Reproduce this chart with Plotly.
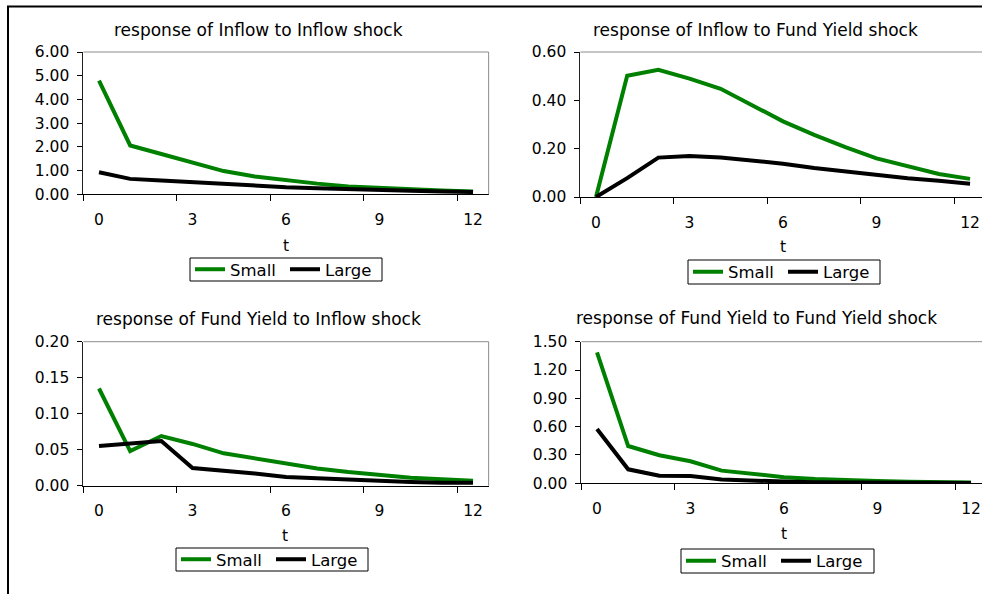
import plotly.graph_objects as go

W, H = 982, 594

t = list(range(13))
tick_vals = [0, 3, 6, 9, 12]

titles = [
    "response of Inflow to Inflow shock",
    "response of Inflow to Fund Yield shock",
    "response of Fund Yield to Inflow shock",
    "response of Fund Yield to Fund Yield shock",
]

small_inflow_inflow = [4.79, 2.06, 1.70, 1.35, 0.98, 0.75, 0.58, 0.45, 0.33, 0.26, 0.21, 0.16, 0.12]
large_inflow_inflow = [0.93, 0.65, 0.58, 0.50, 0.42, 0.36, 0.30, 0.26, 0.21, 0.18, 0.15, 0.12, 0.10]

small_inflow_yield = [0.0, 0.502, 0.526, 0.490, 0.448, 0.380, 0.313, 0.257, 0.206, 0.160, 0.126, 0.095, 0.075]
large_inflow_yield = [0.0, 0.078, 0.163, 0.170, 0.163, 0.152, 0.138, 0.120, 0.105, 0.092, 0.078, 0.067, 0.055]

small_yield_inflow = [0.135, 0.048, 0.069, 0.058, 0.045, 0.038, 0.030, 0.024, 0.019, 0.015, 0.011, 0.009, 0.007]
large_yield_inflow = [0.055, 0.058, 0.062, 0.0245, 0.021, 0.017, 0.012, 0.010, 0.008, 0.006, 0.005, 0.004, 0.004]

small_yield_yield = [1.387, 0.395, 0.297, 0.233, 0.134, 0.095, 0.065, 0.045, 0.032, 0.024, 0.017, 0.011, 0.008]
large_yield_yield = [0.575, 0.148, 0.081, 0.078, 0.040, 0.025, 0.018, 0.012, 0.008, 0.006, 0.005, 0.004, 0.003]

series = [
    (small_inflow_inflow, large_inflow_inflow),
    (small_inflow_yield, large_inflow_yield),
    (small_yield_inflow, large_yield_inflow),
    (small_yield_yield, large_yield_yield),
]
y_ranges = [(0, 6), (0, 0.6), (0, 0.2), (0, 1.5)]
y_dticks = [1.0, 0.2, 0.05, 0.3]

GREEN = "#008000"
FONT = "DejaVu Sans"

step = 31.17
panels = [
    dict(x0=99.0, top=52.0, bottom=194.3),
    dict(x0=596.0, top=52.0, bottom=197.0),
    dict(x0=99.0, top=341.7, bottom=485.7),
    dict(x0=597.0, top=341.7, bottom=483.3),
]
title_pos = [(258, 30), (755, 30), (258, 319), (756, 318)]
t_pos = [(286, 246), (783, 247), (285, 536), (784, 534)]
# legend boxes: left, right, top, bottom
legend_box = [(190, 382, 258, 281), (688, 880, 260, 284), (176, 368, 548, 571), (681, 874, 549, 573)]

def px(x):
    return x / W

def py(y):
    return 1 - y / H

fig = go.Figure()
layout = dict(
    width=W, height=H,
    margin=dict(l=0, r=0, t=0, b=0, autoexpand=False),
    paper_bgcolor="white", plot_bgcolor="white",
    font=dict(family=FONT, size=15, color="black"),
    showlegend=True,
)
shapes = []
annotations = []

for i, (sm, lg) in enumerate(series):
    k = "" if i == 0 else str(i + 1)
    p = panels[i]
    left = p["x0"] - step / 2
    right = p["x0"] + 12.5 * step
    xmax = 12.5
    if right > W:
        xmax = (W - p["x0"]) / step
        right = W
    leg = "legend" if i == 0 else f"legend{i + 1}"
    fig.add_trace(go.Scatter(x=t, y=sm, mode="lines", name="Small",
                             line=dict(color=GREEN, width=4),
                             xaxis="x" + k, yaxis="y" + k, legend=leg))
    fig.add_trace(go.Scatter(x=t, y=lg, mode="lines", name="Large",
                             line=dict(color="black", width=4),
                             xaxis="x" + k, yaxis="y" + k, legend=leg))
    layout["xaxis" + k] = dict(
        domain=[px(left), px(right)], anchor="y" + k,
        range=[-0.5, xmax], tickmode="array", tickvals=tick_vals,
        ticks="", showgrid=False, zeroline=False,
        showline=True, linecolor="black", linewidth=1,
        tickfont=dict(size=15.5, family=FONT), ticklabelstandoff=11,
        minor=dict(tickmode="linear", tick0=-0.5, dtick=3, ticks="outside",
                   ticklen=6, tickcolor="black", tickwidth=1, showgrid=False),
    )
    y0, y1 = y_ranges[i]
    layout["yaxis" + k] = dict(
        domain=[py(p["bottom"]), py(p["top"])], anchor="x" + k,
        range=[y0, y1], tickmode="linear", tick0=0, dtick=y_dticks[i],
        tickformat=".2f", ticks="outside", ticklen=5, tickcolor="black",
        showgrid=False, zeroline=False, showline=True, linecolor="#202020",
        linewidth=1, tickfont=dict(size=15.5, family=FONT), ticklabelstandoff=5,
    )
    shapes.append(dict(type="line", xref=f"x{k} domain", yref=f"y{k} domain",
                       x0=0, x1=1, y0=1, y1=1, line=dict(color="#8c8c8c", width=1)))
    if xmax == 12.5:
        shapes.append(dict(type="line", xref=f"x{k} domain", yref=f"y{k} domain",
                           x0=1, x1=1, y0=0, y1=1, line=dict(color="#8c8c8c", width=1)))
    tx, ty = title_pos[i]
    annotations.append(dict(text=titles[i], x=px(tx), y=py(ty), xref="paper", yref="paper",
                            showarrow=False, xanchor="center", yanchor="middle",
                            font=dict(size=17, family=FONT, color="black")))
    ax_, ay_ = t_pos[i]
    annotations.append(dict(text="t", x=px(ax_), y=py(ay_), xref="paper", yref="paper",
                            showarrow=False, xanchor="center", yanchor="middle",
                            font=dict(size=15.5, family=FONT, color="black")))
    bl, br, bt, bb = legend_box[i]
    shapes.append(dict(type="rect", xref="paper", yref="paper",
                       x0=px(bl), x1=px(br), y0=py(bt), y1=py(bb),
                       line=dict(color="black", width=1), fillcolor="white", layer="below"))
    layout[leg] = dict(
        x=px(bl), y=py((bt + bb) / 2), xanchor="left", yanchor="middle",
        orientation="h", bgcolor="rgba(0,0,0,0)", borderwidth=0,
        font=dict(size=16.5, family=FONT, color="black"),
        itemwidth=30, entrywidth=50, entrywidthmode="pixels",
    )

shapes.append(dict(type="line", xref="paper", yref="paper",
                   x0=px(7), x1=1.01, y0=py(6.5), y1=py(6.5), line=dict(color="black", width=2)))
shapes.append(dict(type="line", xref="paper", yref="paper",
                   x0=px(8), x1=px(8), y0=py(6), y1=-0.01, line=dict(color="black", width=2)))

layout["shapes"] = shapes
layout["annotations"] = annotations
fig.update_layout(**layout)

fig.write_html(
    "out.html",
    config={"displayModeBar": False},
    post_script="document.body.style.margin='0';document.body.style.padding='0';"
                "document.body.style.overflow='hidden';",
)
